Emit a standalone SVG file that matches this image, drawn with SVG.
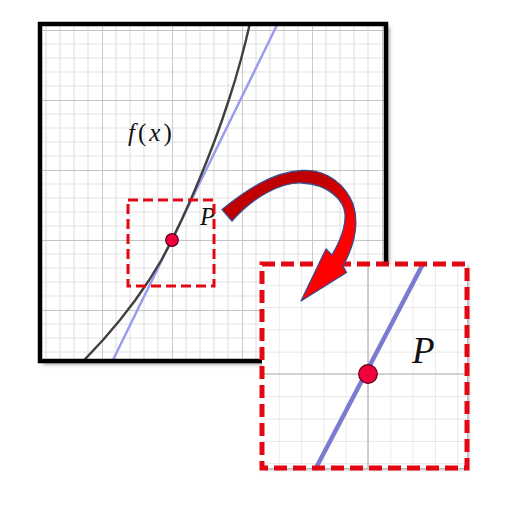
<svg xmlns="http://www.w3.org/2000/svg" width="505" height="525" viewBox="0 0 505 525">
  <style>
    .lbl { font-family: "Liberation Serif", "DejaVu Serif", serif; fill: #111; }
    .it { font-style: italic; }
    .dash { fill: none; stroke: #e30613; }
    .pt { fill: #f0003c; stroke: #5a0018; stroke-width: 1.2; }
  </style>
  <defs>
    <filter id="shadow" x="-10%" y="-10%" width="130%" height="130%">
      <feDropShadow dx="3" dy="3" stdDeviation="2" flood-color="#000" flood-opacity="0.45"/>
    </filter>
    <filter id="softshadow" x="-10%" y="-10%" width="130%" height="130%">
      <feDropShadow dx="2" dy="2" stdDeviation="1.5" flood-color="#000" flood-opacity="0.3"/>
    </filter>
    <pattern id="gridMain" patternUnits="userSpaceOnUse" x="32" y="30" width="70" height="70">
      <path d="M14 0V70M28 0V70M42 0V70M56 0V70M0 14H70M0 28H70M0 42H70M0 56H70" stroke="#e2e2e2" stroke-width="1.2"/>
      <path d="M0 0V70M0 0H70" stroke="#c4c4c4" stroke-width="1.8"/>
    </pattern>
    <pattern id="gridInset" patternUnits="userSpaceOnUse" x="368" y="374" width="22.3" height="22.3">
      <path d="M0 0V22.3M0 0H22.3" stroke="#e0e0e0" stroke-width="1.3"/>
    </pattern>
    <clipPath id="clipMain">
      <rect x="40" y="24" width="346" height="337"/>
    </clipPath>
    <clipPath id="clipInset">
      <rect x="262" y="264" width="205" height="204"/>
    </clipPath>
    <linearGradient id="arrowGrad" gradientUnits="userSpaceOnUse" x1="318" y1="182" x2="350" y2="228">
      <stop offset="0" stop-color="#c00000"/>
      <stop offset="1" stop-color="#ff0000"/>
    </linearGradient>
  </defs>

  <rect width="505" height="525" fill="#fff"/>

  <g id="main-plot">
    <rect x="40" y="24" width="346" height="337" fill="#fff" filter="url(#shadow)"/>
    <g clip-path="url(#clipMain)">
      <rect x="40" y="24" width="346" height="337" fill="url(#gridMain)"/>
      <line x1="112" y1="362" x2="278.5" y2="22" stroke="#9a9aee" stroke-width="2.4"/>
      <polyline fill="none" stroke="#404040" stroke-width="2.4" stroke-linejoin="round"
        points="82.4,362 103,340 120,320 135.4,300 149.2,280 161.4,260 172,240 181.6,220 190.6,200 199.1,180 207.2,160 214.9,140 222.1,120 228.8,100 235.1,80 240.8,60 246.0,40 249.8,24 250.7,20"/>
    </g>
    <rect x="40" y="24" width="346" height="337" fill="none" stroke="#000" stroke-width="4.5"/>
    <text class="lbl" x="128" y="141" font-size="25" letter-spacing="3"><tspan class="it">f</tspan>(<tspan class="it">x</tspan>)</text>
    <text class="lbl it" x="200" y="225" font-size="25">P</text>
  </g>

  <g id="zoom-region">
    <rect class="dash" x="128" y="200" width="86" height="86" stroke-width="3" stroke-dasharray="10 5"/>
    <circle class="pt" cx="172" cy="240" r="6.3"/>
  </g>

  <g id="inset">
    <rect x="262" y="264" width="205" height="204" fill="#fff" filter="url(#softshadow)"/>
    <g clip-path="url(#clipInset)">
      <rect x="262" y="264" width="205" height="204" fill="url(#gridInset)"/>
      <line x1="368" y1="262" x2="368" y2="470" stroke="#c4c4c4" stroke-width="1.6"/>
      <line x1="260" y1="374" x2="470" y2="374" stroke="#c4c4c4" stroke-width="1.6"/>
      <line x1="316" y1="468" x2="424" y2="262" stroke="#7b7bd2" stroke-width="4.5"/>
    </g>
    <rect class="dash" x="262" y="264" width="205" height="204" stroke-width="5" stroke-dasharray="13 6"/>
    <circle class="pt" cx="368" cy="374" r="9.3" stroke-width="1.5"/>
    <text class="lbl it" x="412" y="363" font-size="37">P</text>
  </g>

  <g id="connectors">
    <path id="zoom-arrow" fill="url(#arrowGrad)" stroke="#3d4a8c" stroke-width="1.3" stroke-linejoin="round"
      d="M222,209.5 C245,191 272,172 302,170.5 C328,169 346,186 353,204 C359,222 356,242 343,266 L346.5,272.5 L301,301 L326,249 L332,255 C339,243 346,229 345,214 C344,200 328,184 302,183 C280,182 252,198 232,221 Z"/>
  </g>
</svg>
